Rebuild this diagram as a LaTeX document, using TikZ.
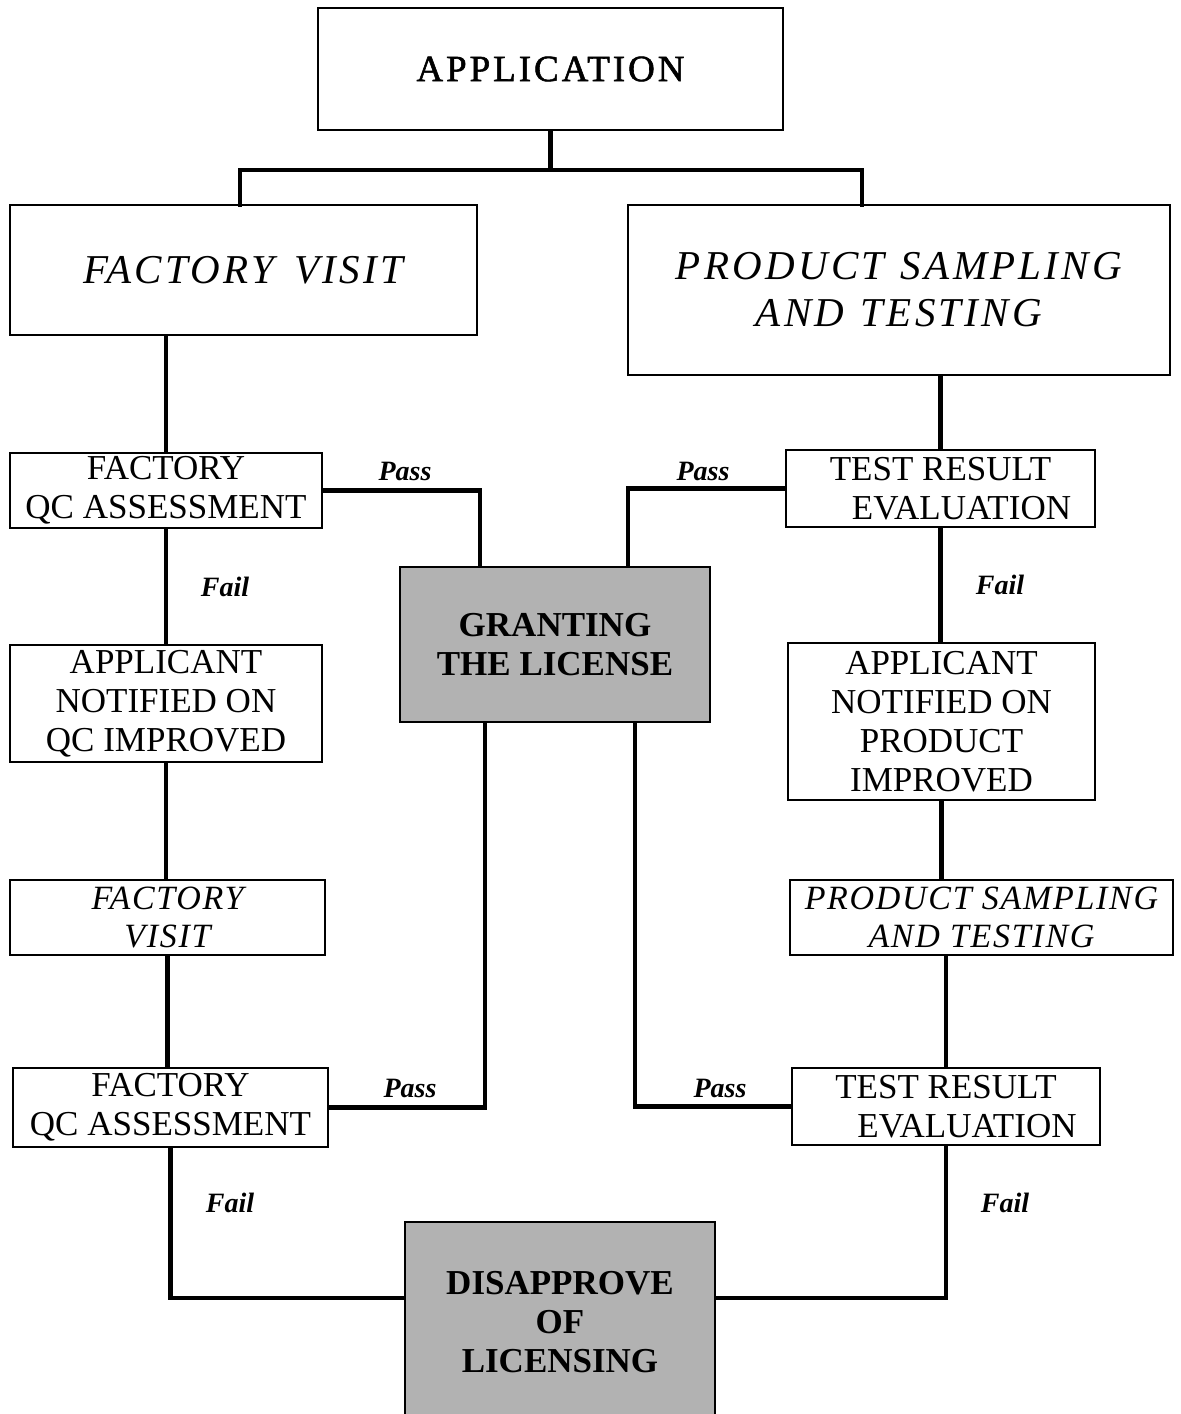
\documentclass[tikz,border=0pt]{standalone}
\usepackage{fontspec}
\setmainfont{Liberation Serif}
\usetikzlibrary{calc}
\begin{document}
\begin{tikzpicture}[x=0.5pt,y=-0.5pt,
  box/.style 2 args={draw,line width=1pt,inner sep=0pt,align=center,
    minimum width=#1*0.5pt,minimum height=#2*0.5pt},
  shaded/.style={fill=black!30},
  link/.style={line width=2.2pt,line cap=rect},
  lbl/.style={font=\fontsize{14}{16}\selectfont\bfseries\itshape},
  bigtxt/.style={font=\fontsize{20.5}{23.5}\selectfont\itshape\addfontfeature{LetterSpace=8}},
  smalltxt/.style={font=\fontsize{17.5}{19.6}\selectfont},
  smallit/.style={font=\fontsize{17}{19}\selectfont\itshape\addfontfeature{LetterSpace=5}},
  headtxt/.style={font=\fontsize{18.5}{20}\selectfont\addfontfeature{LetterSpace=8,FakeBold=1.5}},
  darktxt/.style={font=\fontsize{17.5}{19.5}\selectfont\bfseries}]
\useasboundingbox (0,0) rectangle (1181,1414);

% boxes
\node[box={465}{122},headtxt] (app) at (550.5,69) {APPLICATION};
\node[box={467}{130},bigtxt] (fv) at (243.5,270) {FACTORY\hspace{0.5em}VISIT};
\node[box={542}{170},bigtxt] (pst) at (899,290) {PRODUCT\hspace{0.4em}SAMPLING\\AND\hspace{0.4em}TESTING};
\node[box={312}{75},smalltxt] (qc1) at (166,490.5) {FACTORY\\QC ASSESSMENT};
\node[box={309}{77},smalltxt] (tre1) at (940.5,488.5) {TEST RESULT\\\hspace{1.2em}EVALUATION};
\node[box={310}{155},shaded,darktxt] (grant) at (555,644.5) {GRANTING\\THE LICENSE};
\node[box={312}{117},smalltxt] (anq) at (166,703.5) {APPLICANT\\NOTIFIED ON\\QC IMPROVED};
\node[box={307}{157},smalltxt] (anp) at (941.5,721.5) {APPLICANT\\NOTIFIED ON\\PRODUCT\\IMPROVED};
\node[box={315}{75},smallit] (fv2) at (167.5,917.5) {FACTORY\\VISIT};
\node[box={383}{75},smallit] (pst2) at (981.5,917.5) {PRODUCT SAMPLING\\AND TESTING};
\node[box={315}{79},smalltxt] (qc2) at (170.5,1107.5) {FACTORY\\QC ASSESSMENT};
\node[box={308}{77},smalltxt] (tre2) at (946,1106.5) {TEST RESULT\\\hspace{1.2em}EVALUATION};
\node[box={310}{200},shaded,darktxt] (dis) at (560,1322) {DISAPPROVE\\OF\\LICENSING};

% branch below the application
\coordinate (split) at (550.5,170);
\coordinate (fvin) at (240,205);
\coordinate (pstin) at (862,205);
\draw[link] (app.south) -- (split);
\draw[link] (fvin |- split) -- (pstin |- split);
\draw[link] (fvin |- split) -- (fvin);
\draw[link] (pstin |- split) -- (pstin);

% left column
\draw[link] (qc1.north) -- (qc1.north |- fv.south);
\draw[link] (qc1.south) -- (qc1.south |- anq.north);
\draw[link] (anq.south) -- (anq.south |- fv2.north);
\draw[link] (fv2.south) -- (fv2.south |- qc2.north);

% right column
\draw[link] (pst.south -| tre1.north) -- (tre1.north);
\draw[link] (tre1.south) -- (tre1.south |- anp.north);
\draw[link] (anp.south) -- (anp.south |- pst2.north);
\draw[link] (pst2.south -| tre2.north) -- (tre2.north);

% pass branches to the licence
\coordinate (gtl) at ($(grant.north)+(-75,0)$);
\coordinate (gtr) at ($(grant.north)+(73,0)$);
\coordinate (gbl) at ($(grant.south)+(-70,0)$);
\coordinate (gbr) at ($(grant.south)+(80,0)$);
\draw[link] (qc1.east) -| (gtl);
\draw[link] (tre1.west) -| (gtr);
\draw[link] (qc2.east) -| (gbl);
\draw[link] (tre2.west) -| (gbr);

% fail branches to the refusal
\coordinate (fl) at (560,1298);
\draw[link] (qc2.south) |- (dis.west |- fl);
\draw[link] (tre2.south) |- (dis.east |- fl);

% labels
\node[lbl] (p1) at (405,471) {Pass};
\node[lbl] (p2) at (703,471) {Pass};
\node[lbl] (p3) at (410,1088) {Pass};
\node[lbl] (p4) at (720,1088) {Pass};
\node[lbl] (f1) at (225,587) {Fail};
\node[lbl] (f2) at (1000,585) {Fail};
\node[lbl] (f3) at (230,1203) {Fail};
\node[lbl] (f4) at (1005,1203) {Fail};
\end{tikzpicture}
\end{document}
